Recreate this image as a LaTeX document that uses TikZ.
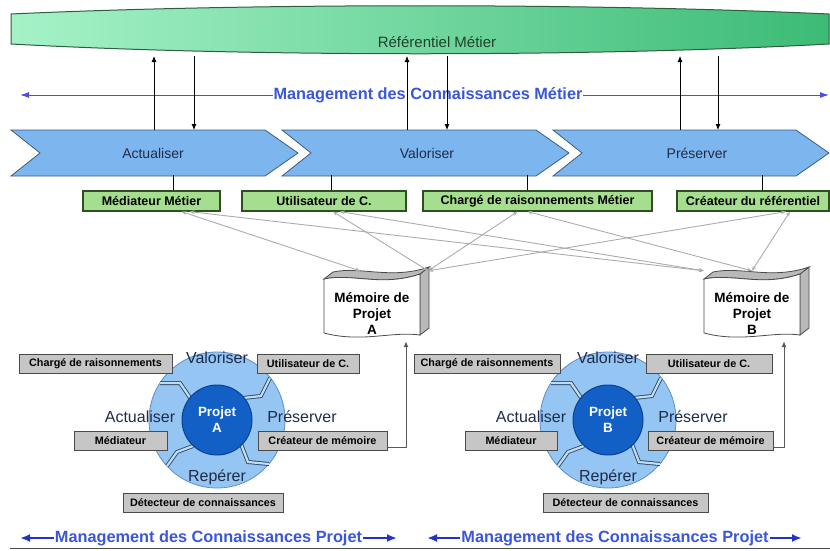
\documentclass[tikz,border=0pt]{standalone}
\usepackage{fontspec}
\setmainfont{Liberation Sans}
\usetikzlibrary{arrows.meta, positioning}

\definecolor{bandL}{HTML}{A6F2C8}
\definecolor{bandR}{HTML}{3CBB76}
\definecolor{bandD}{HTML}{2E5E3E}
\definecolor{chev}{HTML}{7DB6EE}
\definecolor{chevD}{HTML}{3E5C80}
\definecolor{grn}{HTML}{A4DE8E}
\definecolor{grnD}{HTML}{2F4F22}
\definecolor{gry}{HTML}{C6C6C6}
\definecolor{gryD}{HTML}{4A4A4A}
\definecolor{cycL}{HTML}{95C5F2}
\definecolor{cycD}{HTML}{5E8CC6}
\definecolor{prj}{HTML}{1260C6}
\definecolor{prjD}{HTML}{0B4090}
\definecolor{mgm}{HTML}{3A56DC}
\definecolor{mgmL}{HTML}{4B4BEE}
\definecolor{mgmD}{HTML}{2233CC}
\definecolor{navy}{HTML}{1E2C4A}

\tikzset{
  rolebox/.style = {draw=grnD, fill=grn, line width=1.2pt, minimum height=20pt, inner sep=0pt,
                    font=\fontsize{12.5}{14}\selectfont\bfseries},
  actbox/.style = {draw=gryD, fill=gry, line width=1pt, minimum height=19pt, inner sep=0pt,
                   font=\fontsize{10.8}{12}\selectfont\bfseries},
  chevtext/.style = {text=navy, font=\fontsize{14}{16}\selectfont},
  phase/.style = {text=navy, font=\fontsize{16}{18}\selectfont},
  mgmtext/.style = {text=mgm, fill=white, inner sep=1pt, font=\fontsize{16.3}{19}\selectfont\bfseries},
  memtext/.style = {align=center, font=\fontsize{13.5}{16}\selectfont\bfseries},
  link/.style = {draw=gray!65, line width=0.9pt, {Stealth[length=5pt,width=4pt]}-{Stealth[length=5pt,width=4pt]}},
  feed/.style = {-{Latex[length=6pt,width=5pt]}, black, line width=0.8pt},
  feedg/.style = {-{Latex[length=6pt,width=5pt]}, draw=gray!70!black, line width=1pt},
  swirl/.style = {draw=chevD!80!black, double=cycL!60!white, double distance=2.2pt, line width=0.9pt},
}

\begin{document}
\begin{tikzpicture}[x=1pt, y=-1pt]
\useasboundingbox (0,0) rectangle (830,550);

% referentiel metier
\path[draw=bandD, line width=1pt, left color=bandL, right color=bandR]
  (11,14) .. controls (250,3) and (590,3) .. (829,14) -- (829,44)
  .. controls (590,57) and (250,57) .. (11,44) -- cycle;
\node (ref) at (437,42) [text=bandD!70!black, font=\fontsize{15}{17}\selectfont] {Référentiel Métier};

% management des connaissances metier
\coordinate (mL) at (20,95);
\coordinate (mR) at (829,95);
\draw[mgmL, line width=1pt, {Latex[length=9pt,width=6pt]}-{Latex[length=9pt,width=6pt]}] (mL) -- (mR);
\node (mgmM) at (428,95) [mgmtext] {Management des Connaissances Métier};

% chevrons
\foreach \x/\w in {11/254, 282/254, 553/243}
  \draw[chevD, fill=chev, line width=0.8pt] (\x,130) -- ++(\w,0) -- ++(33,23) -- ++(-33,23)
    -- ++(-\w,0) -- ++(29,-23) -- cycle;
\node (act) at (153,153) [chevtext] {Actualiser};
\node (val) at (427,153) [chevtext] {Valoriser};
\node (pre) at (697,153) [chevtext] {Préserver};

% echanges avec le referentiel
\coordinate (refS) at (0,56);
\coordinate (chvN) at (0,130);
\foreach \u/\d in {154/194, 407/447, 680/718} {
  \draw[feed] (chvN -| \u,0) -- (refS -| \u,0);
  \draw[feed] (refS -| \d,0) -- (chvN -| \d,0);
}

% roles metier
\node (g1) at (151.5,201) [rolebox, minimum width=137pt] {Médiateur Métier};
\node (g2) at (324,201) [rolebox, minimum width=164pt] {Utilisateur de C.};
\node (g3) at (537.5,201) [rolebox, minimum width=229pt] {Chargé de raisonnements Métier};
\node (g4) at (753,201) [rolebox, minimum width=152pt] {Créateur du référentiel};
\foreach \g/\s in {g1/22, g2/7, g3/-10, g4/9}
  \draw[line width=0.8pt] ([xshift=\s pt]\g.north) -- ++(0,-15);

% memoires de projet
\foreach \c/\n in {372/A, 752/B} {
  \begin{scope}[shift={(\c,307)}, draw=gryD, line width=0.8pt]
    \filldraw[fill=gray!55] (48,-33) -- (57,-40) -- (57,21) -- (48,28) -- cycle;
    \filldraw[fill=gray!55] (-48,-28) -- (-39,-35) .. controls (-11,-41) and (19,-27) .. (57,-40)
      -- (48,-33) .. controls (10,-20) and (-20,-34) .. (-48,-28) -- cycle;
    \filldraw[fill=white] (-48,-28) .. controls (-20,-34) and (10,-20) .. (48,-33) -- (48,28)
      .. controls (20,24) and (-10,36) .. (-48,26) -- cycle;
  \end{scope}
  \node (mem\n) at (\c,306) [minimum width=96pt, minimum height=70pt] {};
  \node (lab\n) at (\c,314) [memtext] {Mémoire de\\Projet\\\n};
}

% liens roles / memoires
\draw[link] ([xshift=30pt]g1.south) -- ([xshift=-12pt]memA.north);
\draw[link] ([xshift=38pt]g1.south) -- (memB.north west);
\draw[link] ([xshift=9pt]g2.south) -- ([xshift=8pt]memA.north east);
\draw[link] ([xshift=16pt]g2.south) -- (memB.north west);
\draw[link] ([xshift=-20pt]g3.south) -- ([xshift=8pt]memA.north east);
\draw[link] ([xshift=-10pt]g3.south) -- (memB.north);
\draw[link] ([xshift=33pt]g4.south) -- ([xshift=8pt]memA.north east);
\draw[link] ([xshift=37pt]g4.south) -- (memB.north);

% cycles projet
\foreach \c/\n in {217/A, 608/B} {
  \node (cyc\n) at (\c,420) [circle, draw=cycD, fill=cycL, minimum size=136pt, line width=0.8pt] {};
  \begin{scope}[shift={(\c,420)}]
    \draw[swirl] (-57,-37) -- (-37,-37) -- (-24,-18);
    \draw[swirl] (53,-42) -- (44,-24) -- (26,-22);
    \draw[swirl] (24,24) -- (31,42) -- (52,44);
    \draw[swirl] (-24,26) -- (-40,32) -- (-50,46);
  \end{scope}
  \node (prj\n) at (\c,420) [circle, draw=prjD, fill=prj, minimum size=70pt, line width=1pt,
    text=white, align=center, font=\fontsize{13.4}{16}\selectfont\bfseries] {Projet\\\n};
  \node (cval\n) at (\c,358) [phase] {Valoriser};
  \node (cact\n) at (\c-77,417) [phase] {Actualiser};
  \node (cpre\n) at (\c+85,417) [phase] {Préserver};
  \node (crep\n) at (\c,477) [phase] {Repérer};
}

% acteurs projet A
\node (chA) at (95.5,363.5) [actbox, minimum width=153pt] {Chargé de raisonnements};
\node (utA) at (308,363.5) [actbox, minimum width=102pt] {Utilisateur de C.};
\node (meA) at (120.5,440.5) [actbox, minimum width=93pt] {Médiateur};
\node (crA) at (322.5,440.5) [actbox, minimum width=129pt] {Créateur de mémoire};
\node (deA) at (203,503) [actbox, minimum width=160pt] {Détecteur de connaissances};

% acteurs projet B
\node (chB) at (487,363.5) [actbox, minimum width=146pt] {Chargé de raisonnements};
\node (utB) at (709,363.5) [actbox, minimum width=126pt] {Utilisateur de C.};
\node (meB) at (511,440.5) [actbox, minimum width=92pt] {Médiateur};
\node (crB) at (710.5,440.5) [actbox, minimum width=125pt] {Créateur de mémoire};
\node (deB) at (625.5,503) [actbox, minimum width=165pt] {Détecteur de connaissances};

\draw[feedg] ([yshift=-7pt]crA.east) -| (memA.south -| 406,0);
\draw[feedg] ([yshift=-7pt]crB.east) -| (memB.south -| 784,0);

% management des connaissances projet
\coordinate (pAL) at (20,538);
\coordinate (pAR) at (397,538);
\coordinate (pBL) at (427,538);
\coordinate (pBR) at (802,538);
\draw[mgmD, line width=2pt, {Latex[length=10pt,width=8pt]}-{Latex[length=10pt,width=8pt]}] (pAL) -- (pAR);
\draw[mgmD, line width=2pt, {Latex[length=10pt,width=8pt]}-{Latex[length=10pt,width=8pt]}] (pBL) -- (pBR);
\node (mgmA) at (208.5,538) [mgmtext] {Management des Connaissances Projet};
\node (mgmB) at (615,538) [mgmtext] {Management des Connaissances Projet};

\draw[gryD, line width=0.8pt] (10,548) -- (830,548);
\end{tikzpicture}
\end{document}
